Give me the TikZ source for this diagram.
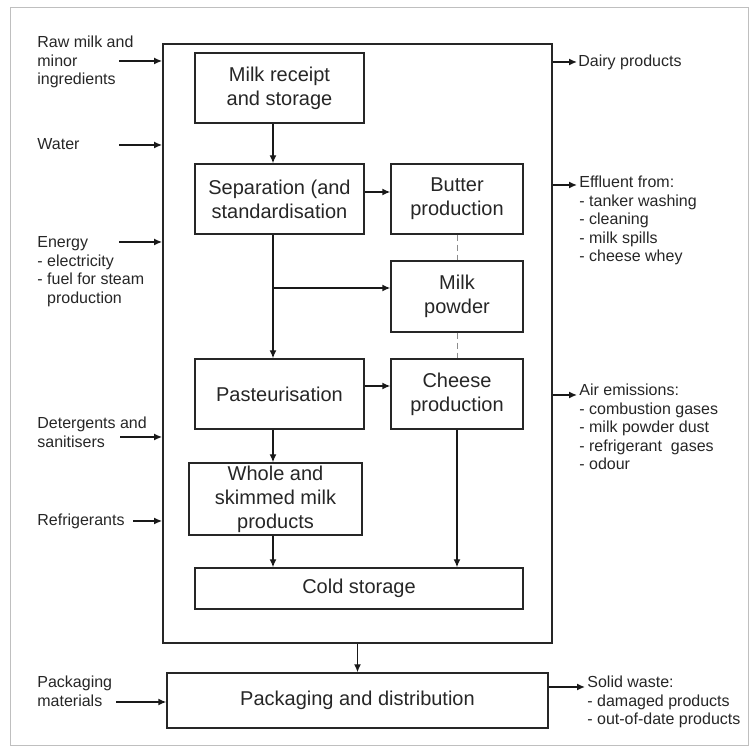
\documentclass[tikz,border=0pt]{standalone}
\usepackage{fontspec}
\setmainfont{Liberation Sans}
\usetikzlibrary{arrows.meta}
\newcommand{\sidelist}[1]{\begin{tabular}[t]{@{}l@{}}#1\end{tabular}}
\tikzset{
	stage/.style={draw=black!85, line width=0.7pt, align=center, inner sep=0pt, text=black!85, font=\fontsize{10}{12}\selectfont},
	flow/.style={draw=black!90, line width=0.7pt, -{Latex[length=4pt,width=3.5pt]}},
	link/.style={draw=black!45, line width=0.4pt, densely dashed},
	sidetext/.style={inner sep=0pt, anchor=base west, text=black!85, font=\fontsize{8}{9.25}\selectfont},
}

\begin{document}
\begin{tikzpicture}[x=0.5pt, y=-0.5pt]
		%%%%% START %%%%%
		\useasboundingbox (0,0) rectangle (751,747);
		\draw[black!25, line width=0.5pt] (10,8) rectangle (748,746);
		
		\node[stage, line width=0.9pt, minimum width=194.5pt, minimum height=299.5pt] (plant) at (357.5,343.5) {};
		
		\node[stage, minimum width=84.5pt, minimum height=35pt] (receipt) at (279.5,88) {Milk receipt\\and storage};
		\node[stage, minimum width=84.5pt, minimum height=35pt] (separation) at (279.5,199) {Separation (and\\standardisation};
		\node[stage, minimum width=84.5pt, minimum height=35pt] (pasteur) at (279.5,394) {Pasteurisation};
		\node[stage, minimum width=66pt, minimum height=35pt] (butter) at (457,199) {Butter\\production};
		\node[stage, minimum width=66pt, minimum height=35.5pt] (powder) at (457,296.5) {Milk\\powder};
		\node[stage, minimum width=66pt, minimum height=35pt] (cheese) at (457,394) {Cheese\\production};
		\node[stage, minimum width=86.5pt, minimum height=36pt] (whole) at (275.5,499) {Whole and\\skimmed milk\\products};
		\node[stage, minimum width=164pt, minimum height=20.5pt] (cold) at (359,588.5) {Cold storage};
		\node[stage, minimum width=190.5pt, minimum height=27.5pt] (pack) at (357.5,700.5) {Packaging and distribution};
		
		\coordinate (trunk) at (273,288);
		
		\draw[flow] (receipt.south -| trunk) -- (separation.north -| trunk);
		\draw[flow] ([yshift=3.5pt]separation.east) -- ([yshift=3.5pt]butter.west);
		\draw[flow] (separation.south -| trunk) -- (pasteur.north -| trunk);
		\draw[flow] (trunk) -- (trunk -| powder.west);
		\draw[flow] ([yshift=4pt]pasteur.east) -- ([yshift=4pt]cheese.west);
		\draw[flow] (pasteur.south -| trunk) -- (whole.north -| trunk);
		\draw[flow] (whole.south -| trunk) -- (cold.north -| trunk);
		\draw[flow] (cheese.south) -- (cheese.south |- cold.north);
		\draw[flow] (plant.south) -- (pack.north);
		
		\draw[link] (butter) -- (powder);
		\draw[link] (powder) -- (cheese);
		
		% inputs
		\node[sidetext] (rawmilk) at (37,48) {\sidelist{Raw milk and\\minor\\ingredients}};
		\node[sidetext] (water) at (37,150) {\sidelist{Water}};
		\node[sidetext] (energy) at (37,248) {\sidelist{Energy\\- electricity\\- fuel for steam\\\phantom{- }production}};
		\node[sidetext] (detergents) at (37,429) {\sidelist{Detergents and\\sanitisers}};
		\node[sidetext] (refrigerants) at (37,526) {\sidelist{Refrigerants}};
		\node[sidetext] (packmat) at (37,688) {\sidelist{Packaging\\materials}};
		
		\coordinate (rawin) at (119,61);
		\coordinate (waterin) at (119,145);
		\coordinate (energyin) at (119,242);
		\coordinate (detergentsin) at (120,437);
		\coordinate (refrigerantsin) at (133,521);
		\coordinate (packmatin) at (116,702);
		
		\draw[flow] (rawin) -- (rawin -| plant.west);
		\draw[flow] (waterin) -- (waterin -| plant.west);
		\draw[flow] (energyin) -- (energyin -| plant.west);
		\draw[flow] (detergentsin) -- (detergentsin -| plant.west);
		\draw[flow] (refrigerantsin) -- (refrigerantsin -| plant.west);
		\draw[flow] (packmatin) -- (packmatin -| pack.west);
		
		% outputs
		\coordinate (dairyout) at (577,62);
		\coordinate (effluentout) at (577,185);
		\coordinate (airout) at (577,395);
		\coordinate (solidout) at (585,687);
		
		\node[sidetext] (dairy) at (578,67) {\sidelist{Dairy products}};
		\node[sidetext] (effluent) at (579,188) {\sidelist{Effluent from:\\- tanker washing\\- cleaning\\- milk spills\\- cheese whey}};
		\node[sidetext] (air) at (579,396) {\sidelist{Air emissions:\\- combustion gases\\- milk powder dust\\- refrigerant~~gases\\- odour}};
		\node[sidetext] (solid) at (587,688) {\sidelist{Solid waste:\\- damaged products\\- out-of-date products}};
		
		\draw[flow] (dairyout -| plant.east) -- (dairyout);
		\draw[flow] (effluentout -| plant.east) -- (effluentout);
		\draw[flow] (airout -| plant.east) -- (airout);
		\draw[flow] (solidout -| pack.east) -- (solidout);
		
		%%%%% END %%%%%
\end{tikzpicture}
\end{document}
